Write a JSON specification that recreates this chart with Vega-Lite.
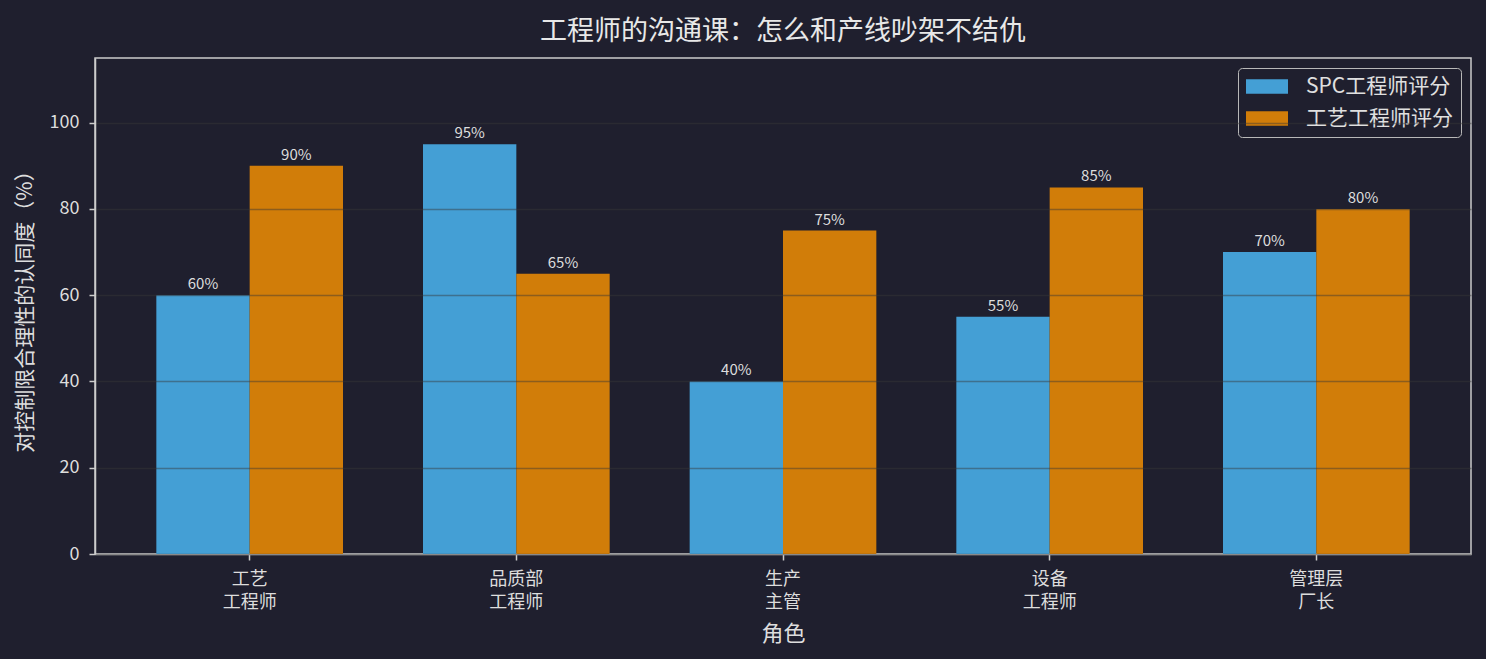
{
  "$schema": "https://vega.github.io/schema/vega-lite/v6.json",
  "description": "Grouped bars: agreement with control-limit reasonableness by role, SPC engineer vs process engineer ratings.",
  "width": 1376,
  "height": 496,
  "autosize": {"type": "none"},
  "padding": {"left": 95, "top": 58, "right": 15, "bottom": 105},
  "background": "#1f1f2e",
  "title": {
    "text": "工程师的沟通课：怎么和产线吵架不结仇",
    "fontSize": 27,
    "font": "Noto Sans CJK SC",
    "fontWeight": "normal",
    "color": "#e8e8e8",
    "anchor": "middle",
    "offset": 12
  },
  "data": {
    "values": [
      {"role": "工艺\n工程师", "series": "SPC工程师评分", "score": 60},
      {"role": "工艺\n工程师", "series": "工艺工程师评分", "score": 90},
      {"role": "品质部\n工程师", "series": "SPC工程师评分", "score": 95},
      {"role": "品质部\n工程师", "series": "工艺工程师评分", "score": 65},
      {"role": "生产\n主管", "series": "SPC工程师评分", "score": 40},
      {"role": "生产\n主管", "series": "工艺工程师评分", "score": 75},
      {"role": "设备\n工程师", "series": "SPC工程师评分", "score": 55},
      {"role": "设备\n工程师", "series": "工艺工程师评分", "score": 85},
      {"role": "管理层\n厂长", "series": "SPC工程师评分", "score": 70},
      {"role": "管理层\n厂长", "series": "工艺工程师评分", "score": 80}
    ]
  },
  "encoding": {
    "x": {
      "field": "role",
      "type": "nominal",
      "sort": null,
      "title": "角色",
      "scale": {"paddingInner": 0.3, "paddingOuter": 0.23},
      "axis": {
        "labelAngle": 0,
        "labelExpr": "split(datum.label, '\\n')",
        "labelLineHeight": 23,
        "labelFontSize": 18,
        "labelPadding": 10,
        "titleFontSize": 22,
        "titlePadding": 12,
        "tickSize": 6
      }
    },
    "xOffset": {
      "field": "series",
      "type": "nominal",
      "sort": ["SPC工程师评分", "工艺工程师评分"],
      "scale": {"paddingInner": 0, "paddingOuter": 0}
    },
    "y": {
      "field": "score",
      "type": "quantitative",
      "title": "对控制限合理性的认同度（%）",
      "scale": {"domain": [0, 115], "nice": false},
      "axis": {
        "values": [0, 20, 40, 60, 80, 100],
        "grid": true,
        "zindex": 1,
        "labelFontSize": 18,
        "labelPadding": 10,
        "titleFontSize": 21,
        "titlePadding": 14,
        "tickSize": 6
      }
    }
  },
  "layer": [
    {
      "mark": {"type": "bar"},
      "encoding": {
        "color": {
          "field": "series",
          "type": "nominal",
          "sort": ["SPC工程师评分", "工艺工程师评分"],
          "scale": {"range": ["#449fd5", "#d17d09"]},
          "legend": {
            "title": null,
            "orient": "top-right",
            "offset": 10,
            "symbolType": "M-1,-0.7L3,-0.7L3,0.7L-1,0.7Z",
            "symbolSize": 441,
            "symbolOpacity": 1,
            "symbolStrokeWidth": 0,
            "labelFontSize": 21,
            "labelOffset": 39,
            "rowPadding": 10,
            "padding": 8,
            "fillColor": "#1f1f2e",
            "strokeColor": "#b8b8b8",
            "cornerRadius": 4
          }
        }
      }
    },
    {
      "transform": [{"calculate": "datum.score + '%'", "as": "lbl"}],
      "mark": {"type": "text", "dy": -11, "fontSize": 15, "color": "#dddddd", "font": "Noto Sans CJK SC"},
      "encoding": {
        "text": {"field": "lbl", "type": "nominal"},
        "detail": {"field": "series"}
      }
    }
  ],
  "config": {
    "font": "Noto Sans CJK SC",
    "view": {"stroke": "#cccccc", "strokeWidth": 1.5},
    "axis": {
      "labelColor": "#dddddd",
      "titleColor": "#dddddd",
      "titleFontWeight": "normal",
      "domainColor": "#cccccc",
      "domainWidth": 1.5,
      "tickColor": "#cccccc",
      "tickWidth": 1.5,
      "gridColor": "#383838",
      "gridOpacity": 0.45,
      "gridWidth": 1.5,
      "labelFont": "Noto Sans CJK SC",
      "titleFont": "Noto Sans CJK SC"
    },
    "legend": {
      "labelColor": "#e0e0e0",
      "labelFont": "Noto Sans CJK SC"
    }
  }
}
